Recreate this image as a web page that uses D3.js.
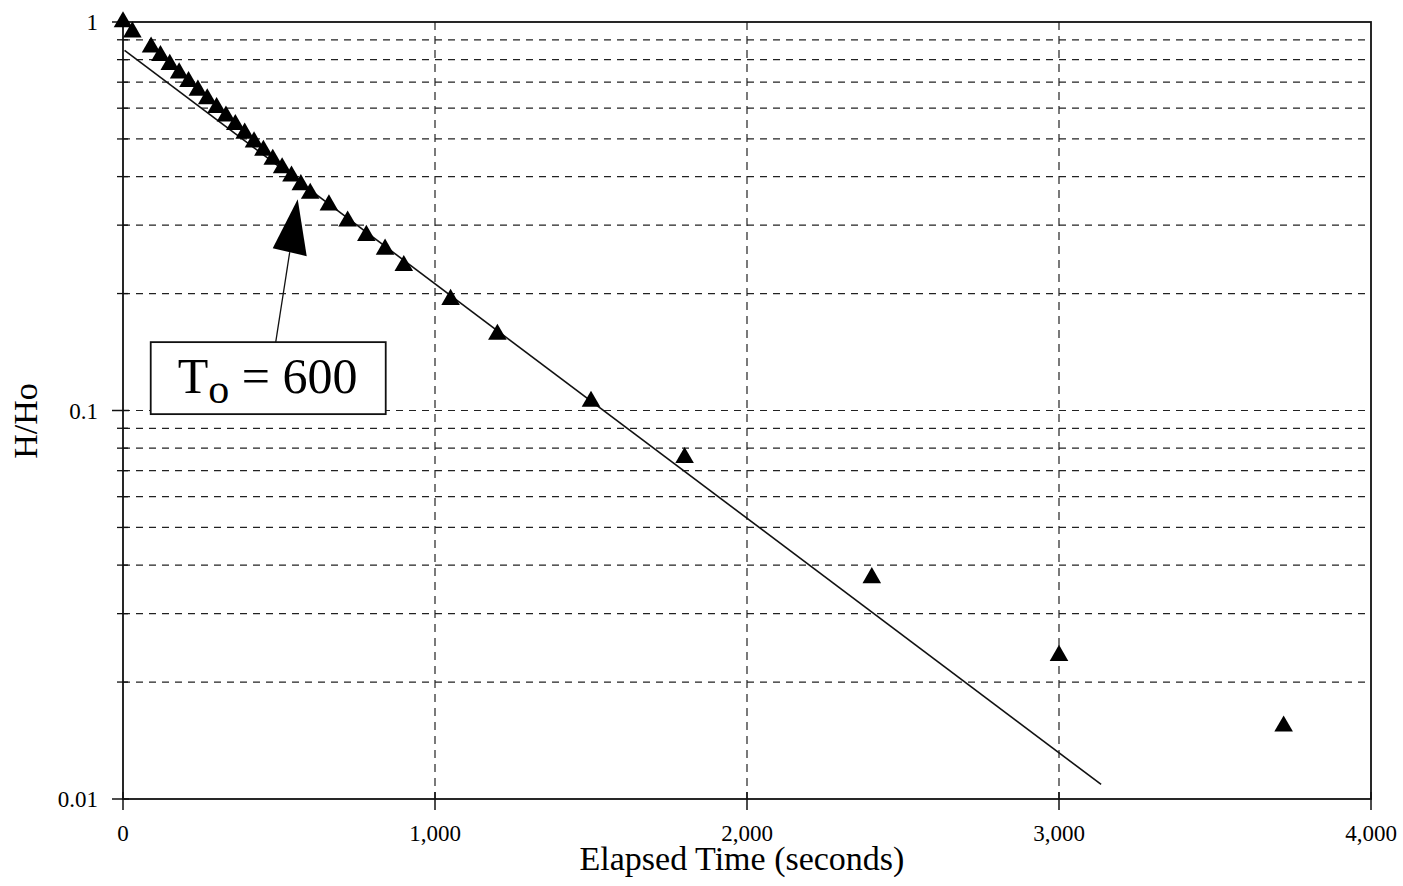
<!DOCTYPE html>
<html>
<head>
<meta charset="utf-8">
<script src="https://cdn.jsdelivr.net/npm/d3@7"></script>
<style>
  body { margin: 0; background: #fff; overflow: hidden; }
  svg { display: block; font-family: "Liberation Serif", "DejaVu Serif", serif; }
</style>
</head>
<body>
<div id="chart"></div>
<script>
// Slug test: normalized head vs elapsed time

const times = [0, 30, 90, 120, 150, 180, 210, 240, 270, 300, 330, 360, 390, 420, 450,
  480, 510, 540, 570, 600, 660, 720, 780, 840, 900, 1050, 1200, 1500, 1800, 2400, 3000, 3720];
const headRatio = [1.0, 0.942, 0.861, 0.819, 0.777, 0.739, 0.702, 0.667, 0.634, 0.602, 0.572,
  0.544, 0.517, 0.491, 0.467, 0.443, 0.421, 0.401, 0.381, 0.362, 0.338, 0.307, 0.282, 0.26,
  0.236, 0.193, 0.157, 0.1055, 0.0756, 0.0371, 0.0234, 0.0154];

// straight-line fit drawn through the early data
const fitTimes = [5, 3135];
const fitHead = [0.845, 0.0109];

const xTicks = [0, 1000, 2000, 3000, 4000];
const xTickLabels = ["0", "1,000", "2,000", "3,000", "4,000"];
const yTicks = [0.01, 0.1, 1];
const yTickLabels = ["0.01", "0.1", "1"];
const yMinor = [0.02, 0.03, 0.04, 0.05, 0.06, 0.07, 0.08, 0.09,
  0.2, 0.3, 0.4, 0.5, 0.6, 0.7, 0.8, 0.9];

const width = 1403, height = 886;
const margin = { top: 22, right: 32, bottom: 87, left: 123 };
const innerWidth = width - margin.left - margin.right;
const innerHeight = height - margin.top - margin.bottom;

const svg = d3.select("#chart").append("svg")
  .attr("width", width)
  .attr("height", height);

const g = svg.append("g")
  .attr("transform", `translate(${margin.left},${margin.top})`);

const xScale = d3.scaleLinear().domain([0, 4000]).range([0, innerWidth]);
const yScale = d3.scaleLog().domain([0.01, 1]).range([innerHeight, 0]);

// horizontal dashed grid
g.selectAll(".hgrid")
  .data(yMinor.concat([0.1]))
  .enter().append("line")
  .attr("x1", 0).attr("x2", innerWidth)
  .attr("y1", d => yScale(d)).attr("y2", d => yScale(d))
  .attr("stroke", "#222").attr("stroke-width", 1.2)
  .attr("stroke-dasharray", "7,6");

// vertical dashed grid
g.selectAll(".vgrid")
  .data(xTicks.slice(1, -1))
  .enter().append("line")
  .attr("x1", d => xScale(d)).attr("x2", d => xScale(d))
  .attr("y1", 0).attr("y2", innerHeight)
  .attr("stroke", "#222").attr("stroke-width", 1.2)
  .attr("stroke-dasharray", "8,6");

// frame
g.append("rect")
  .attr("x", 0).attr("y", 0)
  .attr("width", innerWidth).attr("height", innerHeight)
  .attr("fill", "none").attr("stroke", "#111").attr("stroke-width", 1.8);

// y axis ticks (crossing the axis)
g.selectAll(".yminor")
  .data(yMinor)
  .enter().append("line")
  .attr("x1", -6).attr("x2", 5)
  .attr("y1", d => yScale(d)).attr("y2", d => yScale(d))
  .attr("stroke", "#111").attr("stroke-width", 1.3);

g.selectAll(".ymajor")
  .data(yTicks)
  .enter().append("line")
  .attr("x1", -11).attr("x2", 6)
  .attr("y1", d => yScale(d)).attr("y2", d => yScale(d))
  .attr("stroke", "#111").attr("stroke-width", 1.5);

g.selectAll(".ylab")
  .data(yTicks)
  .enter().append("text")
  .attr("x", -25)
  .attr("y", d => yScale(d) + 8)
  .attr("text-anchor", "end")
  .attr("font-size", 23)
  .text((d, i) => yTickLabels[i]);

// x axis ticks
g.selectAll(".xtick")
  .data(xTicks)
  .enter().append("line")
  .attr("x1", d => xScale(d)).attr("x2", d => xScale(d))
  .attr("y1", innerHeight - 7).attr("y2", innerHeight + 11)
  .attr("stroke", "#111").attr("stroke-width", 1.5);

g.selectAll(".xlab")
  .data(xTicks)
  .enter().append("text")
  .attr("x", d => xScale(d))
  .attr("y", innerHeight + 42)
  .attr("text-anchor", "middle")
  .attr("font-size", 23)
  .text((d, i) => xTickLabels[i]);

// fit line
const line = d3.line()
  .x(d => xScale(d[0]))
  .y(d => yScale(d[1]));

g.append("path")
  .datum(fitTimes.map((t, i) => [t, fitHead[i]]))
  .attr("d", line)
  .attr("fill", "none")
  .attr("stroke", "#111")
  .attr("stroke-width", 1.6);

// data triangles
g.selectAll(".pt")
  .data(times.map((t, i) => [t, headRatio[i]]))
  .enter().append("path")
  .attr("d", d3.symbol(d3.symbolTriangle, 150))
  .attr("transform", d => `translate(${xScale(d[0])},${yScale(d[1])})`)
  .attr("fill", "#000");

// annotation: arrow and T_o box
const tipX = xScale(560), tipY = yScale(0.35);
g.append("path")
  .attr("d", `M${tipX},${tipY} L${tipX - 25},${tipY + 49} L${tipX + 9},${tipY + 57} Z`)
  .attr("fill", "#000");
g.append("line")
  .attr("x1", tipX - 8).attr("y1", tipY + 53)
  .attr("x2", tipX - 22).attr("y2", tipY + 143)
  .attr("stroke", "#111").attr("stroke-width", 1.3);

g.append("rect")
  .attr("x", tipX - 147).attr("y", tipY + 143)
  .attr("width", 235).attr("height", 72)
  .attr("fill", "#fff").attr("stroke", "#111").attr("stroke-width", 1.8);

const note = g.append("text")
  .attr("x", tipX - 120).attr("y", tipY + 194)
  .attr("font-size", 50);
note.append("tspan").text("T");
note.append("tspan").attr("dy", 10).attr("font-size", 42).text("o");
note.append("tspan").attr("dy", -10).text(" = 600");

// axis titles
svg.append("text")
  .attr("x", 742).attr("y", 870)
  .attr("text-anchor", "middle")
  .attr("font-size", 34)
  .text("Elapsed Time (seconds)");

svg.append("text")
  .attr("transform", "rotate(-90)")
  .attr("x", -421).attr("y", 37)
  .attr("text-anchor", "middle")
  .attr("font-size", 34)
  .text("H/Ho");
</script>
</body>
</html>
